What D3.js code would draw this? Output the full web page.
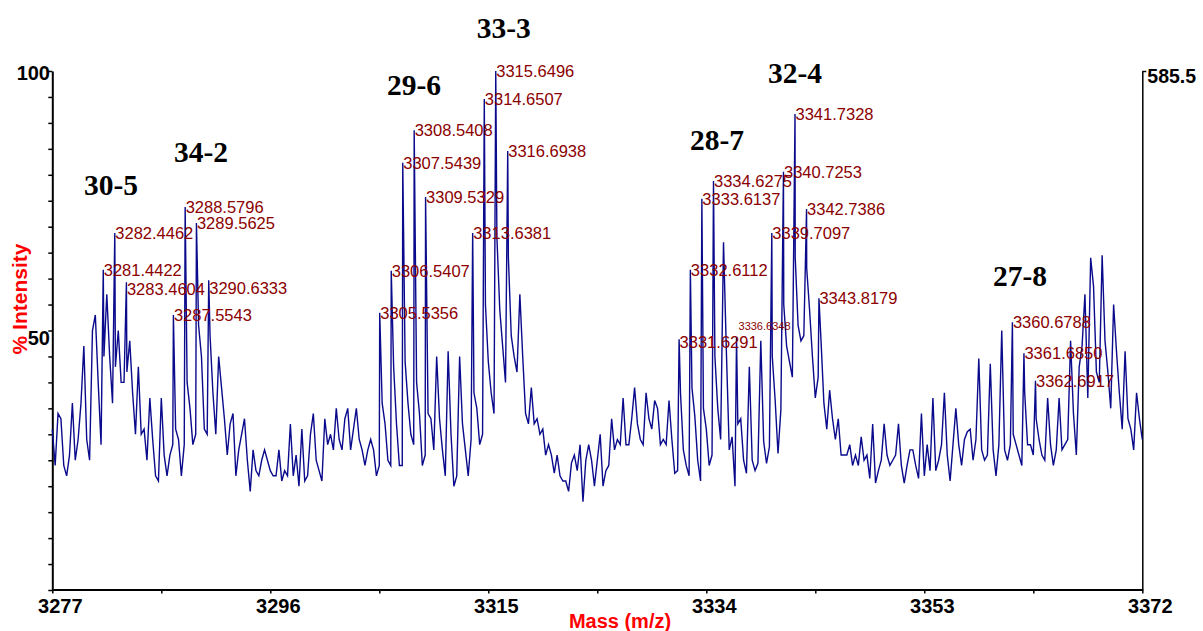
<!DOCTYPE html>
<html><head><meta charset="utf-8">
<script src="https://cdn.jsdelivr.net/npm/d3@7"></script>
<style>body{margin:0;background:#fff} svg{display:block}</style>
</head><body><svg id="c" width="1203" height="631"></svg>
<script>
// ---------- DATA ----------
const massStart = 3277, massStep = 0.25;   // spectrum sampling (m/z)
const intensity = [
  31, 24, 34, 33, 24, 22, 26, 36, 25, 29,
  36, 47, 29, 25, 50, 53, 40, 28, 45, 57,
  45, 36, 43, 50, 40, 40, 42, 48, 38, 30,
  43, 30, 31, 25, 37, 29, 22, 21, 37, 26,
  22, 26, 28, 31, 29, 22, 28, 40, 35, 28,
  30, 51, 45, 31, 30, 49, 38, 30, 45, 39,
  33, 26, 32, 34, 22, 27, 30, 33, 25, 19,
  27, 23, 22, 25, 27, 25, 23, 22, 22, 27,
  21, 23, 22, 32, 22, 26, 20, 31, 21, 22,
  30, 34, 25, 23, 21, 33, 28, 30, 27, 35,
  29, 27, 33, 35, 27, 31, 35, 29, 27, 24,
  27, 29, 27, 22, 24, 36, 32, 25, 24, 43,
  32, 24, 24, 44, 36, 30, 28, 40, 34, 24,
  26, 34, 33, 27, 45, 33, 27, 22, 46, 30,
  20, 22, 45, 32, 27, 22, 29, 38, 35, 28,
  30, 55, 44, 38, 34, 68, 54, 47, 40, 64,
  49, 45, 42, 57, 45, 34, 32, 39, 32, 33,
  30, 31, 26, 28, 26, 22.5, 26, 22, 21, 21,
  19, 24.5, 26, 23, 28, 17, 25, 28, 25, 20,
  25, 30, 20, 23, 24, 33, 27, 29, 28, 37,
  28, 28, 33, 39, 32, 29, 28, 38, 33, 31,
  36.5, 35, 28, 29, 28, 36.5, 29, 22.5, 23, 38,
  27, 24, 22, 39, 33.5, 25, 21, 35, 31, 24,
  26, 45, 35, 29, 67, 46, 27, 29.5, 20, 32,
  33, 25, 22.5, 43, 25, 23, 24.4, 48, 28.6, 24.4,
  27.6, 45, 36.6, 26.3, 34.7, 55, 47, 44, 41, 64,
  51, 48, 49, 62, 54, 45, 37, 41, 48, 36,
  31, 38.5, 33, 29, 33, 26, 26, 26, 28, 24,
  26, 24, 29.5, 25, 26, 21.5, 32, 20.6, 23, 25,
  32, 26, 24, 25, 26, 32, 24, 20.6, 24, 27,
  27, 24, 21.5, 34, 22, 28, 23, 37, 23, 25,
  28, 38, 26, 21, 28, 35, 28, 24, 29, 30.5,
  31, 25, 29, 44.6, 27, 25, 26, 43.6, 27, 22,
  28, 50, 27, 25, 28, 30, 28, 26, 24, 38,
  28, 28, 26, 33, 29, 26, 25, 37, 28, 24,
  27, 37, 27, 28, 29, 48, 34, 26, 43, 47,
  57, 37, 64, 58.5, 42, 40, 64.5, 48, 42, 35,
  55, 46, 38, 31, 46, 33, 31, 27, 38, 33, 29
];
const peakMass = [3281.4422, 3282.4462, 3283.4604, 3287.5543, 3288.5796, 3289.5625, 3290.6333,
  3305.5356, 3306.5407, 3307.5439, 3308.5408, 3309.5329, 3313.6381, 3314.6507, 3315.6496, 3316.6938,
  3331.6291, 3332.6112, 3333.6137, 3334.6275, 3339.7097, 3340.7253, 3341.7328, 3342.7386, 3343.8179,
  3360.6788, 3361.6850, 3362.6917];
const peakIntensity = [61.7, 68.8, 59.3, 53, 73.8, 70.7, 59.7,
  53.4, 61.5, 82.3, 88.6, 75.7, 68.8, 94.6, 100, 84.6,
  48.3, 61.7, 75.4, 78.8, 68.8, 80.6, 91.7, 73.4, 56.2,
  51.6, 45.6, 40.3];
const peakLabels = ["3281.4422", "3282.4462", "3283.4604", "3287.5543", "3288.5796", "3289.5625", "3290.6333",
  "3305.5356", "3306.5407", "3307.5439", "3308.5408", "3309.5329", "3313.6381", "3314.6507", "3315.6496", "3316.6938",
  "3331.6291", "3332.6112", "3333.6137", "3334.6275", "3339.7097", "3340.7253", "3341.7328", "3342.7386", "3343.8179",
  "3360.6788", "3361.6850", "3362.6917"];
const minorPeakMass = [3336.6348];
const minorPeakIntensity = [48.6];
const minorPeakLabels = ["3336.6348"];
const groupNames = ["30-5", "34-2", "29-6", "33-3", "28-7", "32-4", "27-8"];
const xTickValues = [3277, 3286.5, 3296, 3305.5, 3315, 3324.5, 3334, 3343.5, 3353, 3362.5, 3372];
const xTickLabels = ["3277", "3296", "3315", "3334", "3353", "3372"];
const yTickValues = [0, 5, 10, 15, 20, 25, 30, 35, 40, 45, 50, 55, 60, 65, 70, 75, 80, 85, 90, 95, 100];
const yTickLabels = ["50", "100"];
const rightAxisMax = 585.5;

// ---------- LAYOUT ----------
// annotation anchors in data coords: [left-edge mass, baseline level]
const groupAnchor = [[3279.76, 76.1], [3287.61, 82.5], [3306.17, 95.4], [3313.99, 106.4],
                     [3332.58, 84.7], [3339.38, 97.7], [3358.99, 58.6]];
// label collision nudges (px, downward)
const labelNudge = { "3283.4604": 7, "3290.6333": 8, "3331.6291": 3 };

const SANS = "'Liberation Sans', Arial, Helvetica, sans-serif";
const SERIF = "'Liberation Serif', 'Times New Roman', serif";

const svg = d3.select("#c");
const x = d3.scaleLinear().domain([3277, 3372]).range([52.3, 1142.3]);
const y = d3.scaleLinear().domain([0, 100]).range([590, 71]);
const yR = d3.scaleLinear().domain([0, rightAxisMax]).range([590, 71]);

// spectrum points
const grid = intensity.map((v, i) => ({ m: massStart + i * massStep, v }));
const peaks = peakMass.map((m, i) => ({ m, v: peakIntensity[i] }))
  .concat(minorPeakMass.map((m, i) => ({ m, v: minorPeakIntensity[i] })));
const pts = grid.concat(peaks).sort((a, b) => a.m - b.m);

// axes
const gx = svg.append("g").attr("transform", `translate(0,${y(0) - 0.5})`)
  .call(d3.axisBottom(x).tickValues(xTickValues).tickSize(4).tickSizeOuter(0).tickFormat(""));
gx.select(".domain").attr("stroke", "#000").attr("stroke-width", 2);
gx.selectAll(".tick line").attr("stroke", "#000").attr("stroke-width", 1.5);

const gy = svg.append("g").attr("transform", `translate(${x(3277)},0)`)
  .call(d3.axisLeft(y).tickValues(yTickValues).tickSize(4).tickSizeOuter(0).tickFormat(""));
gy.select(".domain").attr("stroke", "#000").attr("stroke-width", 2);
gy.selectAll(".tick line").attr("stroke", "#000").attr("stroke-width", 1.5);

const gr = svg.append("g").attr("transform", `translate(${x(3372)},0)`)
  .call(d3.axisRight(yR).tickValues([rightAxisMax]).tickSize(4).tickSizeOuter(0).tickFormat(""));
gr.select(".domain").attr("stroke", "#000").attr("stroke-width", 1.5);
gr.selectAll(".tick line").attr("stroke", "#000").attr("stroke-width", 1.5);

// tick labels
const xMajors = xTickValues.filter((d, i) => i % 2 === 0);
svg.append("g").selectAll("text").data(xMajors).join("text")
  .attr("x", d => x(d) + 8).attr("y", 613)
  .attr("text-anchor", "middle")
  .attr("font-family", SANS).attr("font-weight", "bold").attr("font-size", 20)
  .text((d, i) => xTickLabels[i]);

svg.append("text").attr("x", 50).attr("y", y(100) + 2).attr("dy", "0.36em")
  .attr("text-anchor", "end").attr("font-family", SANS).attr("font-weight", "bold").attr("font-size", 20)
  .text(yTickLabels[1]);
svg.append("text").attr("x", 50).attr("y", y(50) + 7.5).attr("dy", "0.36em")
  .attr("text-anchor", "end").attr("font-family", SANS).attr("font-weight", "bold").attr("font-size", 20)
  .text(yTickLabels[0]);
svg.append("text").attr("x", x(3372) + 5).attr("y", yR(rightAxisMax) + 4.5).attr("dy", "0.36em")
  .attr("text-anchor", "start").attr("font-family", SANS).attr("font-weight", "bold").attr("font-size", 19.5)
  .text(String(rightAxisMax));

// axis titles
svg.append("text").attr("transform", "translate(19,299) rotate(-90)")
  .attr("text-anchor", "middle").attr("dy", "0.36em")
  .attr("font-family", SANS).attr("font-weight", "bold").attr("font-size", 21).attr("fill", "#ff0000")
  .text("% Intensity");
svg.append("text").attr("x", 620).attr("y", 628)
  .attr("text-anchor", "middle")
  .attr("font-family", SANS).attr("font-weight", "bold").attr("font-size", 20).attr("fill", "#ff0000")
  .text("Mass (m/z)");

// spectrum line
svg.append("path").datum(pts)
  .attr("d", d3.line().x(d => x(d.m)).y(d => y(d.v)))
  .attr("fill", "none").attr("stroke", "#0a0a8c").attr("stroke-width", 1.4)
  .attr("stroke-linejoin", "miter");

// peak labels
svg.append("g").selectAll("text").data(peakMass).join("text")
  .attr("x", d => x(d) + 0.5)
  .attr("y", (d, i) => y(peakIntensity[i]) + (labelNudge[peakLabels[i]] || 0))
  .attr("dy", "0.36em")
  .attr("font-family", SANS).attr("font-size", 16.5).attr("fill", "#8b0000")
  .text((d, i) => peakLabels[i]);
svg.append("g").selectAll("text").data(minorPeakMass).join("text")
  .attr("x", d => x(d) + 2).attr("y", (d, i) => y(minorPeakIntensity[i]) - 12).attr("dy", "0.36em")
  .attr("font-family", SANS).attr("font-size", 11).attr("fill", "#8b0000")
  .text((d, i) => minorPeakLabels[i]);

// isotope-group labels
svg.append("g").selectAll("text").data(groupNames).join("text")
  .attr("x", (d, i) => x(groupAnchor[i][0])).attr("y", (d, i) => y(groupAnchor[i][1]))
  .attr("font-family", SERIF).attr("font-weight", "bold").attr("font-size", 29.5).attr("fill", "#000")
  .text(d => d);
</script>
</body></html>
